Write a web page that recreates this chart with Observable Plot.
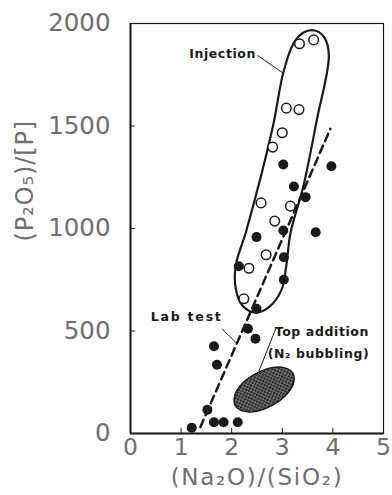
<!DOCTYPE html>
<html><head><meta charset="utf-8">
<script src="https://cdn.jsdelivr.net/npm/d3@7"></script>
<script src="https://cdn.jsdelivr.net/npm/@observablehq/plot@0.6"></script>
<style>
body{margin:0;background:#fff}
g[aria-description="note"] text{letter-spacing:0.6px}
g[aria-description="note-wide"] text{letter-spacing:1.8px}
g[aria-description="x-title"] text{letter-spacing:1.7px}
g[aria-description="y-title"] text{letter-spacing:0.9px}
</style></head><body><div id="chart"></div>
<script>
// Data
const xTicks = [0, 1, 2, 3, 4, 5];
const yTicks = [0, 500, 1000, 1500, 2000];
const xLabel = "(Na\u2082O)/(SiO\u2082)";
const yLabel = "(P\u2082O\u2085)/[P]";

// Injection (open circles)
const openX = [3.34, 3.62, 3.08, 3.33, 3.00, 2.81, 2.58, 3.16, 2.85, 2.68, 2.34, 2.24];
const openY = [1901, 1920, 1587, 1580, 1467, 1397, 1125, 1109, 1036, 872, 806, 657];
// Lab test (filled circles)
const filledX = [3.02, 3.97, 3.23, 3.46, 3.02, 3.66, 2.49, 2.14, 3.03, 3.03, 2.49, 2.32, 2.47, 1.65, 1.71, 1.52, 1.65, 1.84, 2.12, 1.21];
const filledY = [1312, 1304, 1205, 1153, 990, 982, 958, 816, 860, 750, 608, 511, 462, 426, 335, 116, 55, 55, 55, 28];
// Lab test trend line (dashed)
const labLineX = [1.38, 3.95];
const labLineY = [31, 1486];
// Injection envelope outline
const envX = [3.92, 3.68, 3.42, 3.16, 3.08, 2.98, 2.73, 2.47, 2.21, 2.08, 2.08, 2.29, 2.81, 3.02, 3.22, 3.42, 3.64, 3.83];
const envY = [1844, 1527, 1210, 976, 820, 698, 615, 590, 624, 707, 820, 990, 1493, 1761, 1902, 1956, 1966, 1932];
// Top addition (N2 bubbling) region outline
const topX = [3.21, 3.22, 3.07, 2.81, 2.50, 2.23, 2.07, 2.06, 2.20, 2.47, 2.77, 3.05];
const topY = [293, 244, 187, 138, 109, 109, 137, 185, 242, 291, 320, 320];
// Annotations
const notesMid = [{text: "Injection", x: 1.82, y: 1850}];
const notesWide = [{text: "Lab test", x: 1.11, y: 568}];
const notesStart = [
  {text: "Top addition", x: 2.85, y: 494},
  {text: "(N\u2082 bubbling)", x: 2.71, y: 388}
];
const leaders = [
  {x1: 2.51, y1: 1844, x2: 3.00, y2: 1761},
  {x1: 1.81, y1: 510, x2: 2.08, y2: 445},
  {x1: 2.87, y1: 511, x2: 2.54, y2: 305}
];

const openPts = openX.map((x, i) => ({x, y: openY[i]}));
const filledPts = filledX.map((x, i) => ({x, y: filledY[i]}));
const labLine = labLineX.map((x, i) => ({x, y: labLineY[i]}));
const env = envX.map((x, i) => ({x, y: envY[i]}));
const topReg = topX.map((x, i) => ({x, y: topY[i]}));

const defs = () => {
  const d = d3.create("svg:defs");
  d.html(`<pattern id="hatch" width="3" height="3" patternUnits="userSpaceOnUse" patternTransform="rotate(25)">
    <rect width="3" height="3" fill="#2e2e2e"/>
    <path d="M0 1.5H3M1.5 0V3" stroke="#8a8a8a" stroke-width="0.6"/></pattern>`);
  return d.node();
};

const ink = "#1a1a1a";
const noteFont = {fontSize: 12.5, fontWeight: "bold", fill: ink, fontFamily: "'DejaVu Sans', sans-serif"};
const chart = Plot.plot({
  width: 392, height: 495,
  marginLeft: 130, marginRight: 9, marginTop: 23, marginBottom: 62,
  style: {background: "#fff", color: "#6e6e6e", fontFamily: "'DejaVu Sans', sans-serif"},
  x: {domain: [0, 5]},
  y: {domain: [0, 2000]},
  marks: [
    defs,
    Plot.axisX({ticks: xTicks, tickSize: 0, tickPadding: 5, fontSize: 23.5, label: null, tickFormat: d => String(d)}),
    Plot.axisY({ticks: yTicks, tickSize: 0, tickPadding: 20, fontSize: 24.5, label: null, tickFormat: d => String(d)}),
    Plot.text([xLabel], {frameAnchor: "bottom", dy: 51, fontSize: 23, ariaDescription: "x-title"}),
    Plot.text([yLabel], {frameAnchor: "left", rotate: -90, dx: -105, dy: 13, fontSize: 24, ariaDescription: "y-title"}),
    Plot.frame({stroke: ink, strokeWidth: 1.2}),
    Plot.ruleX([0], {stroke: ink, strokeWidth: 2}),
    Plot.ruleY([0], {stroke: ink, strokeWidth: 2}),
    Plot.ruleX([1, 2, 3, 4], {y1: 0, y2: 25, stroke: ink, strokeWidth: 1}),
    Plot.ruleY([500, 1000, 1500], {x1: 0, x2: 0.1, stroke: ink, strokeWidth: 1}),
    Plot.line(topReg, {x: "x", y: "y", curve: "catmull-rom-closed", fill: "url(#hatch)", stroke: ink, strokeWidth: 1.5}),
    Plot.line(env, {x: "x", y: "y", curve: "catmull-rom-closed", stroke: ink, strokeWidth: 2.2}),
    Plot.line(labLine, {x: "x", y: "y", stroke: ink, strokeWidth: 2.5, strokeDasharray: "8,5"}),
    Plot.link(leaders, {x1: "x1", y1: "y1", x2: "x2", y2: "y2", stroke: ink, strokeWidth: 1}),
    Plot.dot(filledPts, {x: "x", y: "y", r: 5, fill: ink, stroke: "none"}),
    Plot.dot(openPts, {x: "x", y: "y", r: 4.8, fill: "#fff", stroke: ink, strokeWidth: 1.5}),
    Plot.text(notesMid, {x: "x", y: "y", text: "text", textAnchor: "middle", ...noteFont, ariaDescription: "note"}),
    Plot.text(notesWide, {x: "x", y: "y", text: "text", textAnchor: "middle", ...noteFont, ariaDescription: "note-wide"}),
    Plot.text(notesStart, {x: "x", y: "y", text: "text", textAnchor: "start", ...noteFont, ariaDescription: "note"})
  ]
});
document.getElementById("chart").appendChild(chart);
</script></body></html>
